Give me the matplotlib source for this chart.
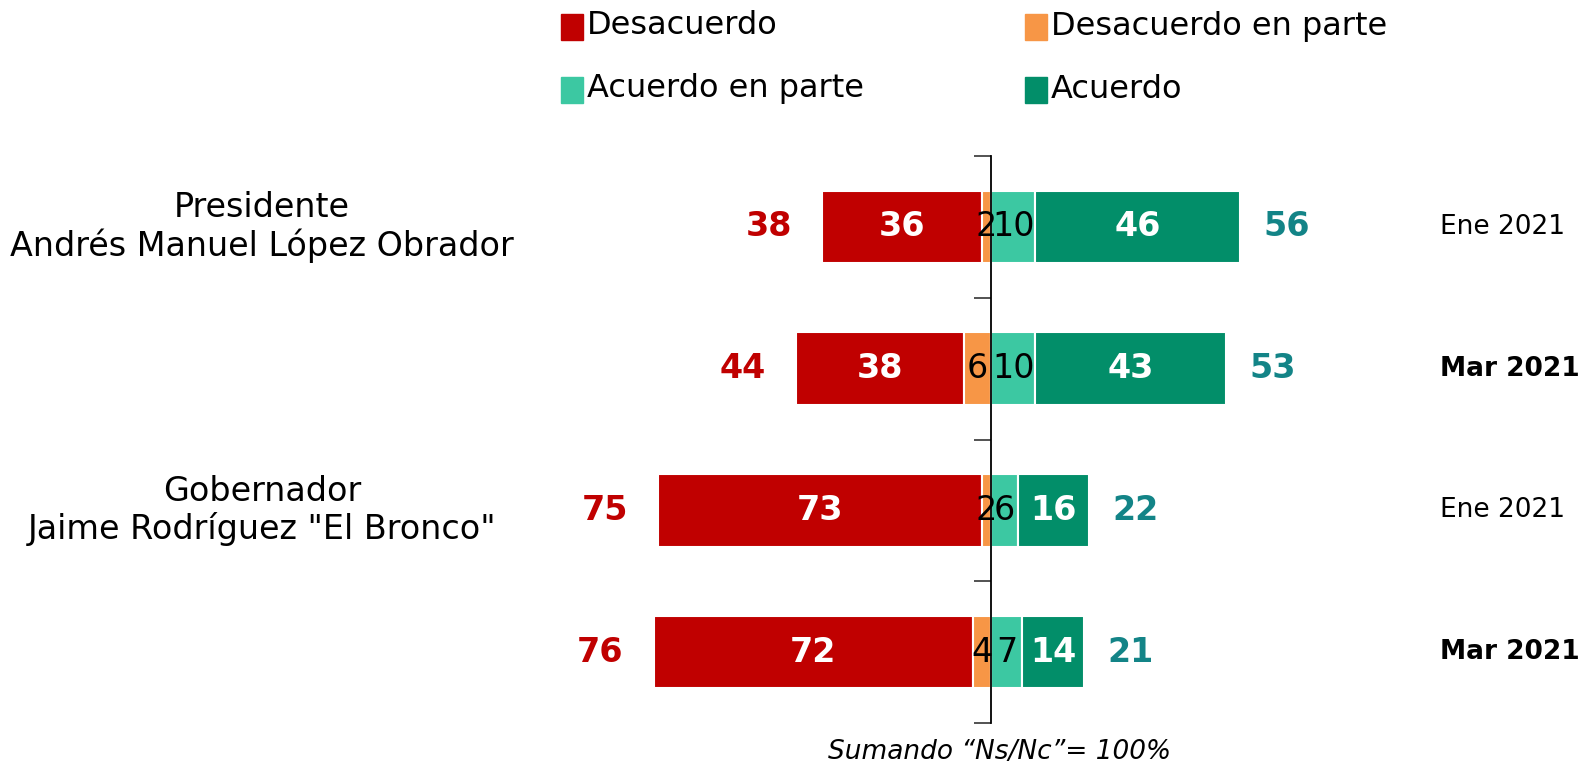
import matplotlib
matplotlib.use("Agg")
import matplotlib.pyplot as plt
from matplotlib import font_manager
from matplotlib.patches import Rectangle
import numpy as np

plt.rcParams['font.family'] = ['DejaVu Sans']

# datos
grupos = ["Presidente\nAndrés Manuel López Obrador", "Gobernador\nJaime Rodríguez \"El Bronco\""]
periodos = ["Ene 2021", "Mar 2021", "Ene 2021", "Mar 2021"]
periodo_negrita = [False, True, False, True]
desacuerdo = [36, 38, 73, 72]
desacuerdo_parte = [2, 6, 2, 4]
acuerdo_parte = [10, 10, 6, 7]
acuerdo = [46, 43, 16, 14]
total_desacuerdo = [38, 44, 75, 76]
total_acuerdo = [56, 53, 22, 21]
series = ["Desacuerdo", "Desacuerdo en parte", "Acuerdo en parte", "Acuerdo"]
nota = "Sumando \u201cNs/Nc\u201d= 100%"

ROJO = "#C00000"
NARANJA = "#F79646"
VERDE_CLARO = "#3CC8A2"
VERDE = "#028E69"
TEAL = "#138487"
colores = [ROJO, NARANJA, VERDE_CLARO, VERDE]

# la leyenda del original usa una letra estrecha
fuentes = {f.name for f in font_manager.fontManager.ttflist}
if "Liberation Sans Narrow" in fuentes:
    fuente_leyenda, fs_leyenda = "Liberation Sans Narrow", 28
else:
    fuente_leyenda, fs_leyenda = "DejaVu Sans", 23

W, H = 1579, 768
fig = plt.figure(figsize=(W / 100, H / 100), dpi=100)
ax = fig.add_axes([0, 1 - 723 / H, 1, (723 - 156) / H])

px_unit = 4.44
centro = 991
ax.set_xlim(-centro / px_unit, (W - centro) / px_unit)
ax.set_ylim(3.5, -0.5)

y = np.arange(len(desacuerdo))
d = np.array(desacuerdo)
dp = np.array(desacuerdo_parte)
ap = np.array(acuerdo_parte)
a = np.array(acuerdo)

alto = 0.51
kw = dict(height=alto, edgecolor="white", linewidth=1.5)
ax.barh(y, d, left=-(d + dp), color=ROJO, **kw)
ax.barh(y, dp, left=-dp, color=NARANJA, **kw)
ax.barh(y, ap, left=0, color=VERDE_CLARO, **kw)
ax.barh(y, a, left=ap, color=VERDE, **kw)

fs = 24
for i in range(len(y)):
    ax.text(-(dp[i] + d[i] / 2), y[i], str(d[i]), ha="center", va="center",
            color="white", fontsize=fs, fontweight="bold")
    ax.text(-dp[i] / 2, y[i], str(dp[i]), ha="center", va="center",
            color="black", fontsize=fs)
    ax.text(ap[i] / 2, y[i], str(ap[i]), ha="center", va="center",
            color="black", fontsize=fs)
    ax.text(ap[i] + a[i] / 2, y[i], str(a[i]), ha="center", va="center",
            color="white", fontsize=fs, fontweight="bold")
    ax.text(-(total_desacuerdo[i] + 12), y[i], str(total_desacuerdo[i]), ha="center",
            va="center", color=ROJO, fontsize=fs, fontweight="bold")
    ax.text(total_acuerdo[i] + 10.5, y[i], str(total_acuerdo[i]), ha="center",
            va="center", color=TEAL, fontsize=fs, fontweight="bold")
    ax.text(1440 / W, y[i], periodos[i], transform=ax.get_yaxis_transform(),
            ha="left", va="center", fontsize=19,
            fontweight="bold" if periodo_negrita[i] else "normal")

for g, nombre in enumerate(grupos):
    ax.text(262 / W, 2 * g, nombre, transform=ax.get_yaxis_transform(),
            ha="center", va="center", fontsize=24, linespacing=1.15)

# eje central
for s in ["top", "right", "bottom"]:
    ax.spines[s].set_visible(False)
ax.spines["left"].set_position(("data", 0))
ax.spines["left"].set_linewidth(1.3)
ax.set_yticks(np.arange(-0.5, 4, 1))
ax.set_yticklabels([])
ax.tick_params(axis="y", length=12, width=1.3, color="#444444", direction="out")
ax.set_xticks([])
ax.patch.set_alpha(0)

# leyenda manual
pos_leyenda = [(561, 27), (1025, 27), (561, 90), (1025, 90)]
for (lx, ly), nombre, c in zip(pos_leyenda, series, colores):
    fig.add_artist(Rectangle((lx / W, 1 - (ly + 13) / H), 22 / W, 26 / H,
                             transform=fig.transFigure, color=c))
    fig.text((lx + 26) / W, 1 - (ly - 1) / H, nombre, ha="left", va="center",
             fontsize=fs_leyenda, family=fuente_leyenda)

fig.text(1000 / W, 1 - 752 / H, nota, ha="center", va="center", fontsize=19,
         style="italic")

fig.savefig("out.png", dpi=100)
